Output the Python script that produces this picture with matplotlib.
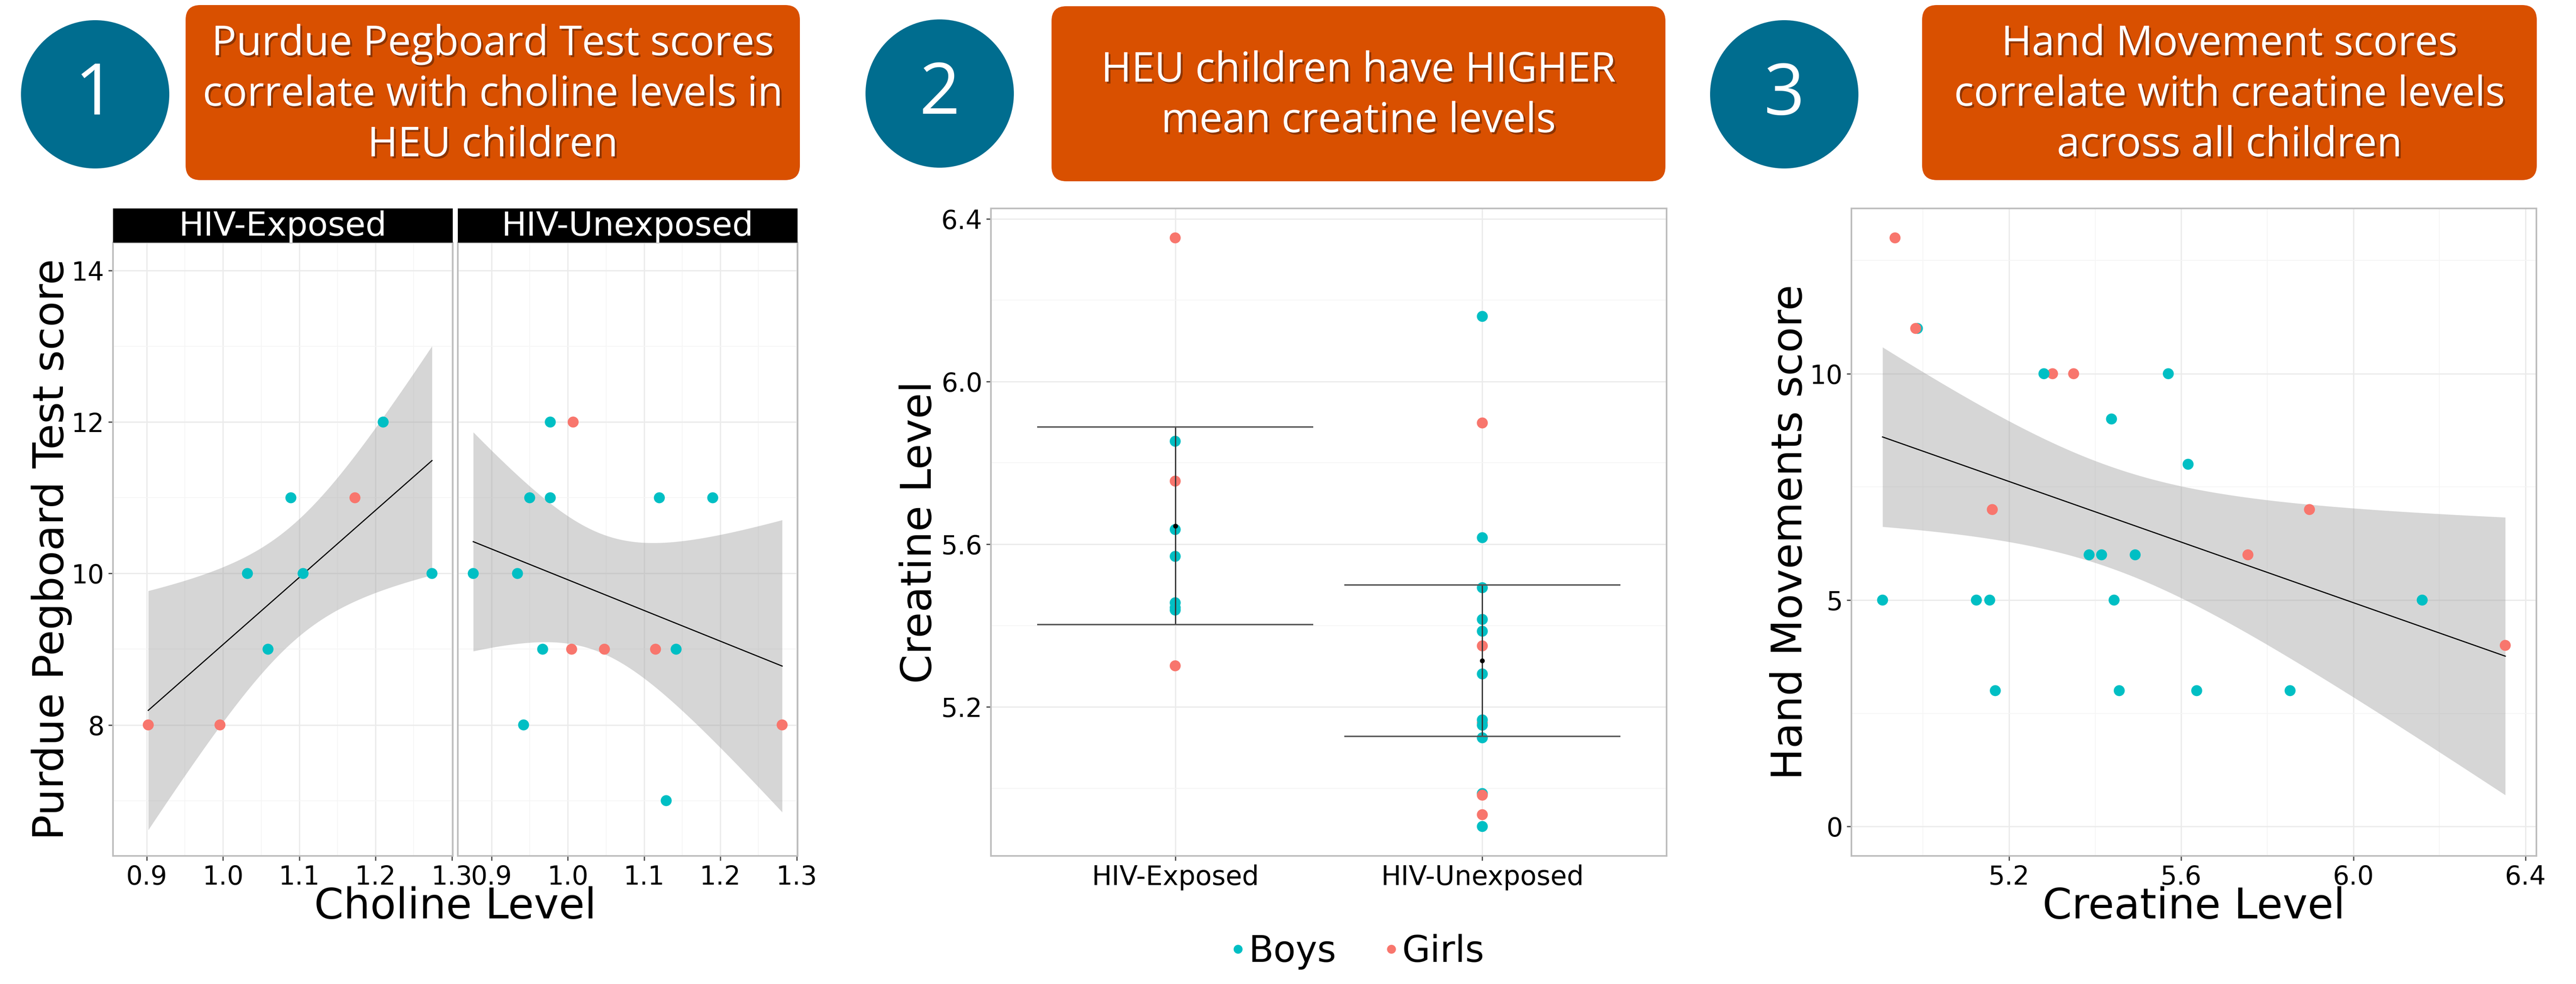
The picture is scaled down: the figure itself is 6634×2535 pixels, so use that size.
import math
import numpy as np
import matplotlib
matplotlib.use("Agg")
import matplotlib.pyplot as plt
from matplotlib.patches import FancyBboxPatch, Circle, Rectangle
from matplotlib.lines import Line2D
import matplotlib.patheffects as pe

# ---------------------------------------------------------------- data
# Panel 1: Purdue Pegboard score vs choline level, faceted by exposure
choline_heu = [0.902, 0.996, 1.032, 1.059, 1.089, 1.105, 1.173, 1.210, 1.274]
pegboard_heu = [8, 8, 10, 9, 11, 10, 11, 12, 10]
sex_p1_heu = ["G", "G", "B", "B", "B", "B", "G", "B", "B"]

choline_huu = [0.876, 0.934, 0.942, 0.950, 0.967, 0.977, 0.977, 1.005,
               1.007, 1.048, 1.115, 1.120, 1.129, 1.142, 1.190, 1.281]
pegboard_huu = [10, 10, 8, 11, 9, 12, 11, 9, 12, 9, 9, 11, 7, 9, 11, 8]
sex_p1_huu = ["B", "B", "B", "B", "B", "B", "B", "G",
              "G", "G", "G", "B", "B", "B", "B", "G"]

# Panels 2 and 3: creatine level and Hand Movements score per child
groups = ["HIV-Exposed", "HIV-Unexposed"]
creatine_heu = [6.353, 5.853, 5.755, 5.636, 5.570, 5.456, 5.444, 5.438, 5.301]
hand_heu = [4, 3, 6, 3, 10, 3, 5, 9, 10]
sex_heu = ["G", "B", "G", "B", "B", "B", "B", "B", "G"]

creatine_huu = [6.160, 5.898, 5.616, 5.493, 5.415, 5.386, 5.350, 5.281,
                5.161, 5.168, 5.155, 5.124, 4.987, 4.983, 4.935, 4.906]
hand_huu = [5, 7, 8, 6, 6, 6, 10, 10, 7, 3, 5, 5, 11, 11, 13, 5]
sex_huu = ["B", "G", "B", "B", "B", "B", "G", "B",
           "G", "B", "B", "B", "B", "G", "G", "B"]

sex_labels = ["Boys", "Girls"]
headlines = [
    "Purdue Pegboard Test scores\ncorrelate with choline levels in\nHEU children",
    "HEU children have HIGHER\nmean creatine levels",
    "Hand Movement scores\ncorrelate with creatine levels\nacross all children",
]

# ---------------------------------------------------------------- style
W, H, DPI = 6634, 2535, 300
BOY, GIRL = "#00BFC4", "#F8766D"
SEX_COLOR = {"B": BOY, "G": GIRL}
ORANGE = "#D95000"
TEAL = "#006D8F"
BORDER = "#BDBDBD"
GRID_MAJ = "#EBEBEB"
GRID_MIN = "#F5F5F5"
FONT = "DejaVu Sans"
LABEL_SIZE = 26


def t_quantile(p, df):
    xs = np.linspace(0.0, 20.0, 400001)
    logc = math.lgamma((df + 1) / 2) - math.lgamma(df / 2) - 0.5 * math.log(df * math.pi)
    pdf = np.exp(logc) * (1 + xs ** 2 / df) ** (-(df + 1) / 2)
    cdf = 0.5 + np.concatenate([[0.0], np.cumsum((pdf[1:] + pdf[:-1]) / 2 * np.diff(xs))])
    return float(np.interp(p, cdf, xs))


def lm_band(x, y, n=100):
    x = np.asarray(x, float)
    y = np.asarray(y, float)
    b, a = np.polyfit(x, y, 1)
    resid = y - (a + b * x)
    dof = len(x) - 2
    s = np.sqrt(np.sum(resid ** 2) / dof)
    xg = np.linspace(x.min(), x.max(), n)
    fit = a + b * xg
    se = s * np.sqrt(1 / len(x) + (xg - x.mean()) ** 2 / np.sum((x - x.mean()) ** 2))
    t = t_quantile(0.975, dof)
    return xg, fit, fit - t * se, fit + t * se


def mean_ci(v):
    v = np.asarray(v, float)
    m = v.mean()
    se = v.std(ddof=1) / np.sqrt(len(v))
    t = t_quantile(0.975, len(v) - 1)
    return m, m - t * se, m + t * se


def expand(lo, hi, mult=0.05):
    d = (hi - lo) * mult
    return lo - d, hi + d


def frac(x0, x1, y0, y1):
    return [x0 / W, 1 - y1 / H, (x1 - x0) / W, (y1 - y0) / H]


def style_axes(ax, xmaj, xmin, ymaj, ymin, show_y=True):
    ax.set_facecolor("white")
    for sp in ax.spines.values():
        sp.set_color(BORDER)
        sp.set_linewidth(1.0)
    ax.set_xticks(xmaj)
    ax.set_xticks(xmin, minor=True)
    ax.set_yticks(ymaj)
    ax.set_yticks(ymin, minor=True)
    ax.grid(True, which="major", color=GRID_MAJ, linewidth=0.8, zorder=0)
    ax.grid(True, which="minor", color=GRID_MIN, linewidth=0.5, zorder=0)
    ax.set_axisbelow(True)
    ax.tick_params(which="major", length=2.8, width=0.8, color="#4D4D4D",
                   labelsize=16, labelcolor="black", pad=2.5)
    ax.tick_params(which="minor", length=0)
    ax.tick_params(axis="y", left=show_y, labelleft=show_y)


plt.rcParams["font.family"] = [FONT]
fig = plt.figure(figsize=(W / DPI, H / DPI), dpi=DPI)
fig.patch.set_facecolor("white")

# ---------------------------------------------------------------- headers
hdr = fig.add_axes([0, 0, 1, 1], zorder=-5)
hdr.set_xlim(0, W)
hdr.set_ylim(H, 0)
hdr.axis("off")
shadow = [pe.withSimplePatchShadow(offset=(1.2, -1.2), shadow_rgbFace="black", alpha=0.35)]
circles = [(245, 243), (2420, 241), (4595, 243)]
boxes = [(478, 2060, 13, 464), (2708, 4289, 16, 467), (4950, 6533, 13, 464)]
for i, ((cx, cy), (bx0, bx1, by0, by1), txt) in enumerate(zip(circles, boxes, headlines)):
    hdr.add_patch(Circle((cx, cy), 191, facecolor=TEAL, edgecolor="none"))
    hdr.text(cx, cy + 4, str(i + 1), color="white", fontsize=44, family="Open Sans",
             ha="center", va="center")
    hdr.add_patch(FancyBboxPatch((bx0, by0), bx1 - bx0, by1 - by0,
                                 boxstyle="round,pad=0,rounding_size=38",
                                 facecolor=ORANGE, edgecolor="none"))
    hdr.text((bx0 + bx1) / 2, (by0 + by1) / 2 + 6, txt, color="white", fontsize=25.5,
             family="Open Sans", ha="center", va="center", linespacing=1.3,
             multialignment="center", path_effects=shadow)

# ---------------------------------------------------------------- panel 1
p1_xlim = expand(min(choline_heu + choline_huu), max(choline_heu + choline_huu))
p1_ylim = (6.27, 14.37)
facets = [
    ("HIV-Exposed", choline_heu, pegboard_heu, sex_p1_heu, (291, 1166)),
    ("HIV-Unexposed", choline_huu, pegboard_huu, sex_p1_huu, (1179, 2054)),
]
for k, (name, xs, ys, ss, (x0, x1)) in enumerate(facets):
    ax = fig.add_axes(frac(x0, x1, 625, 2205))
    xg, fit, lo, hi = lm_band(xs, ys)
    ax.fill_between(xg, lo, hi, color="#999999", alpha=0.4, linewidth=0, zorder=2)
    ax.plot(xg, fit, color="black", linewidth=0.7, zorder=3)
    ax.scatter(xs, ys, c=[SEX_COLOR[s] for s in ss], s=46, linewidths=0, zorder=4)
    ax.set_xlim(*p1_xlim)
    ax.set_ylim(*p1_ylim)
    style_axes(ax, [0.9, 1.0, 1.1, 1.2, 1.3], [0.95, 1.05, 1.15, 1.25],
               [8, 10, 12, 14], [7, 9, 11, 13], show_y=(k == 0))
    ax.set_xticklabels(["0.9", "1.0", "1.1", "1.2", "1.3"])
    # facet strip
    st = fig.add_axes(frac(x0, x1, 537, 625))
    st.set_xlim(0, 1)
    st.set_ylim(0, 1)
    st.add_patch(Rectangle((0, 0), 1, 1, facecolor="black", edgecolor="none"))
    st.axis("off")
    st.text(0.5, 0.47, name, color="white", fontsize=20.5, ha="center", va="center")

fig.text(133 / W, 1 - 1415 / H, "Purdue Pegboard Test score", rotation=90,
         fontsize=LABEL_SIZE, ha="center", va="center")
fig.text(1172 / W, 1 - 2366 / H, "Choline Level", fontsize=LABEL_SIZE,
         ha="center", va="baseline")

# ---------------------------------------------------------------- panel 2
ax2 = fig.add_axes(frac(2552, 4292, 537, 2205))
all_creatine = creatine_heu + creatine_huu
c_lim = expand(min(all_creatine), max(all_creatine))
for gi, (vals, ss) in enumerate([(creatine_heu, sex_heu), (creatine_huu, sex_huu)]):
    pos = gi + 1
    ax2.scatter([pos] * len(vals), vals, c=[SEX_COLOR[s] for s in ss], s=46,
                linewidths=0, zorder=3)
    m, lo, hi = mean_ci(vals)
    ax2.errorbar([pos], [m], yerr=[[m - lo], [hi - m]], fmt="none", ecolor="#333333",
                 elinewidth=0.8, capsize=0, zorder=4)
    ax2.hlines([lo, hi], pos - 0.45, pos + 0.45, colors="#555555", linewidth=0.9, zorder=4)
    ax2.scatter([pos], [m], color="black", s=4, zorder=5)
ax2.set_xlim(0.4, 2.6)
ax2.set_ylim(*c_lim)
style_axes(ax2, [1, 2], [], [5.2, 5.6, 6.0, 6.4], [5.0, 5.4, 5.8, 6.2])
ax2.set_xticklabels(groups, fontsize=16.5)
ax2.set_yticklabels(["5.2", "5.6", "6.0", "6.4"])
fig.text(2368 / W, 1 - 1371 / H, "Creatine Level", rotation=90, fontsize=LABEL_SIZE,
         ha="center", va="center")

# ---------------------------------------------------------------- panel 3
ax3 = fig.add_axes(frac(4768, 6532, 537, 2205))
all_hand = hand_heu + hand_huu
all_sex = sex_heu + sex_huu
xg, fit, lo, hi = lm_band(all_creatine, all_hand)
ax3.fill_between(xg, lo, hi, color="#999999", alpha=0.4, linewidth=0, zorder=2)
ax3.plot(xg, fit, color="black", linewidth=0.7, zorder=3)
ax3.scatter(all_creatine, all_hand, c=[SEX_COLOR[s] for s in all_sex], s=46,
            linewidths=0, zorder=4)
ax3.set_xlim(*c_lim)
ax3.set_ylim(*expand(0, max(all_hand)))
style_axes(ax3, [5.2, 5.6, 6.0, 6.4], [5.0, 5.4, 5.8, 6.2], [0, 5, 10], [2.5, 7.5, 12.5])
ax3.set_xticklabels(["5.2", "5.6", "6.0", "6.4"])
fig.text(4610 / W, 1 - 1371 / H, "Hand Movements score", rotation=90, fontsize=LABEL_SIZE,
         ha="center", va="center")
fig.text(5650 / W, 1 - 2366 / H, "Creatine Level", fontsize=LABEL_SIZE,
         ha="center", va="baseline")

# ---------------------------------------------------------------- legend
handles = [Line2D([], [], marker="o", linestyle="none", markersize=5.5,
                  markerfacecolor=c, markeredgewidth=0) for c in (BOY, GIRL)]
fig.legend(handles, sex_labels, loc="center", ncol=2, frameon=False,
           bbox_to_anchor=(3496 / W, 1 - 2452 / H), fontsize=22.5,
           handlelength=0.4, handletextpad=0.1, columnspacing=1.3)

fig.savefig("out.png", dpi=DPI, facecolor="white")
